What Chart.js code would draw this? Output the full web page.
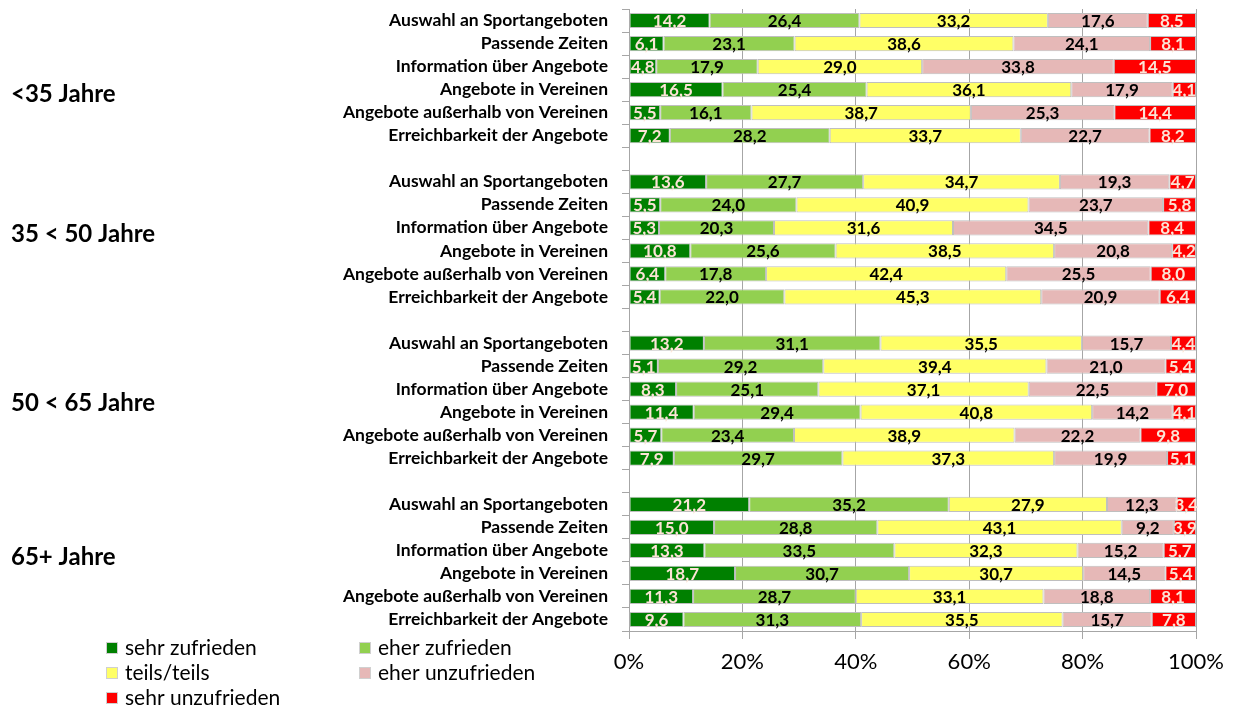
<!DOCTYPE html>
<html>
<head>
<meta charset="utf-8">
<script src="https://cdn.jsdelivr.net/npm/chart.js@4"></script>
<style>
  html, body { margin: 0; padding: 0; background: #fff; }
  #wrap { width: 1235px; height: 709px; }
</style>
</head>
<body>
<div id="wrap"><canvas id="chart"></canvas></div>
<script>
// --- data ---
const categories = ["Auswahl an Sportangeboten", "Passende Zeiten", "Information über Angebote",
  "Angebote in Vereinen", "Angebote außerhalb von Vereinen", "Erreichbarkeit der Angebote"];
const groups = ["<35 Jahre", "35 < 50 Jahre", "50 < 65 Jahre", "65+ Jahre"];
const seriesNames = ["sehr zufrieden", "eher zufrieden", "teils/teils", "eher unzufrieden", "sehr unzufrieden"];
const xTicks = [0, 20, 40, 60, 80, 100];

// values per group (6 categories each)
const sehrZufrieden = [
  [14.2, 6.1, 4.8, 16.5, 5.5, 7.2],
  [13.6, 5.5, 5.3, 10.8, 6.4, 5.4],
  [13.2, 5.1, 8.3, 11.4, 5.7, 7.9],
  [21.2, 15.0, 13.3, 18.7, 11.3, 9.6]
];
const eherZufrieden = [
  [26.4, 23.1, 17.9, 25.4, 16.1, 28.2],
  [27.7, 24.0, 20.3, 25.6, 17.8, 22.0],
  [31.1, 29.2, 25.1, 29.4, 23.4, 29.7],
  [35.2, 28.8, 33.5, 30.7, 28.7, 31.3]
];
const teilsTeils = [
  [33.2, 38.6, 29.0, 36.1, 38.7, 33.7],
  [34.7, 40.9, 31.6, 38.5, 42.4, 45.3],
  [35.5, 39.4, 37.1, 40.8, 38.9, 37.3],
  [27.9, 43.1, 32.3, 30.7, 33.1, 35.5]
];
const eherUnzufrieden = [
  [17.6, 24.1, 33.8, 17.9, 25.3, 22.7],
  [19.3, 23.7, 34.5, 20.8, 25.5, 20.9],
  [15.7, 21.0, 22.5, 14.2, 22.2, 19.9],
  [12.3, 9.2, 15.2, 14.5, 18.8, 15.7]
];
const sehrUnzufrieden = [
  [8.5, 8.1, 14.5, 4.1, 14.4, 8.2],
  [4.7, 5.8, 8.4, 4.2, 8.0, 6.4],
  [4.4, 5.4, 7.0, 4.1, 9.8, 5.1],
  [3.4, 3.9, 5.7, 5.4, 8.1, 7.8]
];

const colors = ["#008000", "#92d050", "#ffff66", "#e6b8b7", "#ff0000"];
const labelColors = ["#fce4d6", "#000", "#000", "#000", "#fce4d6"];
const FONT = "Lato, 'Open Sans', sans-serif";

// build rows: 6 categories per group, blank row between groups
const allSeries = [sehrZufrieden, eherZufrieden, teilsTeils, eherUnzufrieden, sehrUnzufrieden];
const rowLabels = [];
const raw = allSeries.map(() => []);
groups.forEach((g, gi) => {
  if (gi > 0) {
    rowLabels.push("");
    raw.forEach(r => r.push(null));
  }
  categories.forEach((c, ci) => {
    rowLabels.push(c);
    allSeries.forEach((s, si) => raw[si].push(s[gi][ci]));
  });
});
// 100% stacked: normalise each row
const totals = rowLabels.map((_, i) => raw.reduce((a, r) => a + (r[i] || 0), 0));
const datasets = seriesNames.map((name, si) => ({
  label: name,
  data: raw[si].map((v, i) => v == null ? null : v / totals[i] * 100),
  rawValues: raw[si],
  backgroundColor: colors[si],
  borderColor: "#bfbfbf",
  borderWidth: 1,
  borderSkipped: false,
  barPercentage: 0.66,
  categoryPercentage: 1
}));

const fmt = v => v.toFixed(1).replace(".", ",");

const extras = {
  id: "extras",
  afterDatasetsDraw(chart) {
    const ctx = chart.ctx;
    ctx.save();
    // value labels
    ctx.font = "bold 17px " + FONT;
    ctx.textAlign = "center";
    ctx.textBaseline = "middle";
    chart.data.datasets.forEach((ds, di) => {
      const meta = chart.getDatasetMeta(di);
      meta.data.forEach((bar, i) => {
        const v = ds.rawValues[i];
        if (v == null) return;
        ctx.fillStyle = labelColors[di];
        ctx.fillText(fmt(v), (bar.x + bar.base) / 2, bar.y + 1);
      });
    });
    // group labels
    const y = chart.scales.y;
    const groupRow = [3.2, 9.3, 16.6, 23.3];
    ctx.font = "bold 24px " + FONT;
    ctx.textAlign = "left";
    ctx.fillStyle = "#000";
    groups.forEach((g, gi) => ctx.fillText(g, 11, y.getPixelForValue(groupRow[gi])));
    // legend, two columns
    ctx.font = "21px " + FONT;
    const cols = [106, 359];
    const rows = [648, 673, 698];
    seriesNames.forEach((n, si) => {
      const cx = cols[si % 2], cy = rows[Math.floor(si / 2)];
      ctx.fillStyle = colors[si];
      ctx.fillRect(cx, cy - 6, 12, 12);
      ctx.strokeStyle = "#d0d0d0";
      ctx.lineWidth = 1;
      ctx.strokeRect(cx + 0.5, cy - 5.5, 11, 11);
      ctx.fillStyle = "#000";
      ctx.fillText(n, cx + 19, cy);
    });
    ctx.restore();
  }
};

new Chart(document.getElementById("chart"), {
  type: "bar",
  data: { labels: rowLabels, datasets: datasets },
  options: {
    indexAxis: "y",
    responsive: true,
    maintainAspectRatio: false,
    animation: false,
    layout: { padding: { top: 9, right: 39, bottom: 0, left: 0 } },
    plugins: { legend: { display: false }, tooltip: { enabled: false } },
    scales: {
      x: {
        stacked: true,
        min: 0,
        max: 100,
        afterBuildTicks: s => { s.ticks = xTicks.map(v => ({ value: v })); },
        afterFit: s => { s.height = 78; },
        ticks: {
          callback: v => v + "%",
          color: "#000",
          font: { family: FONT, size: 22 },
          padding: 10
        },
        grid: { color: "#a6a6a6", tickLength: 8 },
        border: { color: "#a6a6a6" }
      },
      y: {
        stacked: true,
        afterFit: s => { s.width = 629; s.paddingTop = 0; s.paddingBottom = 0; },
        ticks: {
          autoSkip: false,
          color: "#000",
          font: { family: FONT, size: 17.5, weight: "bold" },
          padding: 14
        },
        grid: { drawOnChartArea: false, color: "#a6a6a6", tickLength: 7 },
        border: { color: "#a6a6a6" }
      }
    }
  },
  plugins: [extras]
});
</script>
</body>
</html>
